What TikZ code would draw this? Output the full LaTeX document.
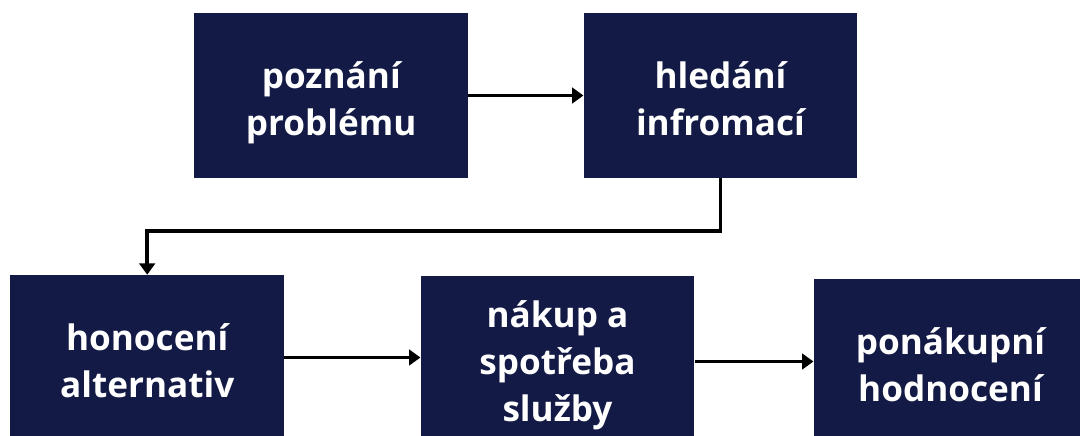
\documentclass[tikz,border=0pt]{standalone}
\usepackage{fontspec}
\setmainfont{Open Sans}
\usepackage{xcolor}
\usetikzlibrary{positioning, calc, arrows.meta}
\definecolor{navy}{RGB}{19,26,69}
% struts: tall on the first line, a little depth on the last one
\newcommand{\topstrut}{\rule{0pt}{30pt}}
\newcommand{\botstrut}{\rule[-7pt]{0pt}{7pt}}

\begin{document}
\begin{tikzpicture}[
    box/.style={fill=navy, text=white, minimum width=6.84cm, minimum height=4.125cm,
                align=center, font=\bfseries\fontsize{25}{33.5}\selectfont, inner sep=0pt,
                execute at end node=\botstrut},
    arr/.style={line width=2.6pt, -{Triangle[length=8pt,width=11pt]}}
  ]
    \useasboundingbox (0,0) rectangle (27,-10.875);

    % Boxes, top row
    \node[box] (poznani) at (8.281,-2.3875) {\topstrut pozn\'an\'i\\probl\'emu};
    \node[box] (hledani) at (18.0125,-2.3875) {\topstrut hled\'an\'i\\infromac\'i};

    % Boxes, bottom row
    \node[box] (hodnoceni) at (3.68,-8.9375) {\topstrut honocen\'i\\alternativ};
    \node[box] (nakup) at (13.9375,-8.9625) {\topstrut n\'akup a\\spot\v{r}eba\\slu\v{z}by};
    \node[box] (ponakupni) at (23.7625,-9.0375) {\topstrut pon\'akupn\'i\\hodnocen\'i};

    % Connectors
    \draw[arr] (poznani) -- (hledani);
    \draw[arr] (hledani.south) -- ++(0,-1.325) -| (hodnoceni.north);
    \draw[arr] (hodnoceni.east) -- (nakup.west |- hodnoceni.east);
    \draw[arr] (nakup.east |- ponakupni.west) -- (ponakupni.west);
\end{tikzpicture}
\end{document}
